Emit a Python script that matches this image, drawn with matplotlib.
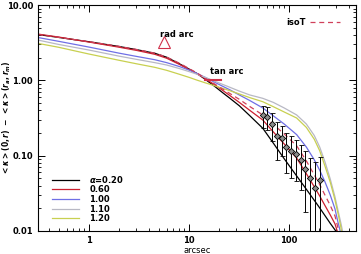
import numpy as np
import matplotlib
matplotlib.use('Agg')
import matplotlib.pyplot as plt
from matplotlib.lines import Line2D

# model curves: <k>(0,r) - <k>(r_a,r_m)
r_grid = [0.31, 0.5, 1, 2, 3, 4.57, 6, 8.13, 10.2, 12, 14.5, 18, 22, 25.7, 32,
          40.7, 55, 70, 90, 120, 150, 180, 204, 230, 260]

r_black = r_grid + [295, 300]
k_black = [4.06, 3.72, 3.26, 2.82, 2.56, 2.29, 2.03, 1.65, 1.40, 1.24, 1.04, 0.84,
           0.68, 0.58, 0.46, 0.34, 0.231, 0.147, 0.091, 0.0537, 0.0357, 0.0255,
           0.0202, 0.016, 0.0126, 0.010, 0.008]

r_red = r_grid + [290, 305, 312]
k_red = [4.12, 3.76, 3.23, 2.76, 2.50, 2.22, 1.97, 1.62, 1.38, 1.23, 1.06, 0.88,
         0.73, 0.63, 0.51, 0.40, 0.297, 0.207, 0.143, 0.093, 0.0575, 0.0386,
         0.0291, 0.0218, 0.0163, 0.0124, 0.010, 0.007]

r_iso = r_grid + [290, 316, 322]
k_iso = [4.06, 3.72, 3.27, 2.83, 2.57, 2.30, 2.04, 1.68, 1.42, 1.26, 1.07, 0.90,
         0.76, 0.67, 0.56, 0.45, 0.347, 0.26, 0.194, 0.135, 0.085, 0.0556,
         0.0412, 0.030, 0.0218, 0.0158, 0.010, 0.007]

r_blue = r_grid + [290, 310, 327, 332]
k_blue = [3.71, 3.30, 2.77, 2.30, 2.08, 1.88, 1.72, 1.52, 1.36, 1.24, 1.10, 0.95,
          0.83, 0.75, 0.64, 0.54, 0.43, 0.338, 0.263, 0.19, 0.13, 0.088,
          0.064, 0.045, 0.030, 0.0196, 0.0132, 0.010, 0.006]

r_gray = r_grid + [290, 315, 335, 347, 352]
k_gray = [3.43, 3.00, 2.53, 2.10, 1.90, 1.72, 1.60, 1.43, 1.30, 1.21, 1.10, 0.98,
          0.88, 0.81, 0.72, 0.64, 0.577, 0.51, 0.43, 0.347, 0.263, 0.185, 0.13,
          0.083, 0.049, 0.0283, 0.0173, 0.0121, 0.0095, 0.005]

r_yel = r_grid + [290, 315, 330, 339, 344]
k_yel = [3.10, 2.75, 2.24, 1.85, 1.66, 1.49, 1.36, 1.20, 1.09, 1.01, 0.93, 0.85,
         0.78, 0.73, 0.66, 0.59, 0.52, 0.447, 0.38, 0.316, 0.237, 0.165, 0.116,
         0.073, 0.0445, 0.0258, 0.0158, 0.0117, 0.0095, 0.005]

alphas = ['0.20', '0.60', '1.00', '1.10', '1.20']

# weak lensing points
r_pts = [55.4, 61.2, 68.7, 77.1, 85.7, 94.8, 106, 118, 132, 147, 165, 183, 204]
k_pts = [0.346, 0.329, 0.26, 0.182, 0.173, 0.129, 0.116, 0.104, 0.0875, 0.066,
         0.050, 0.0375, 0.048]
k_err = [0.115, 0.11, 0.105, 0.095, 0.075, 0.07, 0.065, 0.058, 0.053, 0.048,
         0.042, 0.045, 0.049]

# arcs
rad_arc = (5.6, 3.2)
tan_arc_r = [14.5, 21.0]
tan_arc_k = [1.0, 1.0]

plt.rcParams['font.family'] = 'DejaVu Sans'
plt.rcParams['font.weight'] = 'bold'

fig = plt.figure(figsize=(3.61, 2.54), dpi=100)
ax = fig.add_axes([0.105, 0.091, 0.881, 0.889])

cols = ['black', '#cc1f2f', '#6f6fe6', '#b8b8c4', '#c8d050']
for r, k, c in zip([r_black, r_red, r_blue, r_gray, r_yel],
                   [k_black, k_red, k_blue, k_gray, k_yel], cols):
    ax.plot(r, k, color=c, lw=0.9)
ax.plot(r_iso, k_iso, color='#d0405a', lw=0.9, ls=(0, (4, 3)))

ax.errorbar(r_pts, k_pts, yerr=k_err, fmt='D', ms=3.2, mfc='#8c8c8c',
            mec='black', mew=0.6, ecolor='black', elinewidth=0.7,
            capsize=1.8, capthick=0.7)

ax.plot(*rad_arc, marker='^', ms=8, mfc='none', mec='#d0304a', mew=0.8)
ax.text(5.2, 3.75, 'rad arc', fontsize=6, color='black')
ax.plot(tan_arc_r, tan_arc_k, color='#d0304a', lw=1.5)
ax.text(16.5, 1.22, 'tan arc', fontsize=6, color='black')

ax.set_xscale('log')
ax.set_yscale('log')
ax.set_xlim(0.31, 470)
ax.set_ylim(0.01, 10)
ax.set_yticks([0.01, 0.1, 1, 10])
ax.set_yticklabels(['0.01', '0.10', '1.00', '10.00'])
ax.set_xticks([1, 10, 100])
ax.set_xticklabels(['1', '10', '100'])
ax.tick_params(which='both', direction='in', top=True, right=True, labelsize=6)
ax.tick_params(which='major', length=5, width=0.7)
ax.tick_params(which='minor', length=2.5, width=0.6)
for s in ax.spines.values():
    s.set_linewidth(0.8)

ax.set_xlabel('arcsec', fontsize=6, labelpad=1)
ax.set_ylabel(r'$<\kappa>(0,r)\ -\ <\kappa>(r_a,r_m)$', fontsize=5.5)
ax.yaxis.set_label_coords(-0.078, 0.5)

handles = [Line2D([], [], color=c, lw=0.9) for c in cols]
labels = [r'$\alpha$=' + alphas[0]] + alphas[1:]
leg = ax.legend(handles, labels, loc='lower left', bbox_to_anchor=(0.02, 0.0),
                fontsize=6, frameon=False, handlelength=3.3, labelspacing=0.08,
                handletextpad=1.2)
ax.add_artist(leg)
h_iso = [Line2D([], [], color='#d0405a', lw=0.9, ls=(0, (4, 3)))]
ax.legend(h_iso, ['isoT'], loc='upper right', bbox_to_anchor=(0.975, 0.975),
          fontsize=6, frameon=False, handlelength=3.6, markerfirst=False,
          handletextpad=0.6)

fig.savefig('out.png', dpi=100)
